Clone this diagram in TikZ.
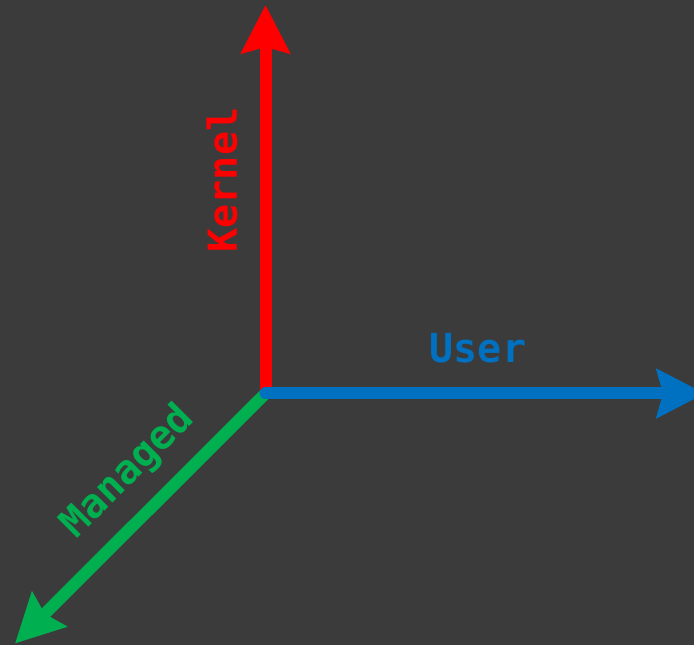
\documentclass[tikz,border=0pt]{standalone}
\usepackage{fontspec}
\newfontfamily\axisfont{DejaVu Sans Mono}
\usetikzlibrary{arrows.meta}
\definecolor{bgdark}{HTML}{3B3B3B}
\definecolor{axisred}{HTML}{FF0000}
\definecolor{axisblue}{HTML}{0070C0}
\definecolor{axisgreen}{HTML}{00B050}
\tikzset{
  axis/.style={line width=9pt, -{Stealth[length=36pt,width=36pt,inset=4.5pt]}},
  axislabel/.style={font=\axisfont\bfseries\fontsize{30}{30}\selectfont, inner sep=0pt}
}
\begin{document}
\begin{tikzpicture}[x=0.75pt,y=-0.75pt]
  \fill[bgdark] (0,0) rectangle (694,645);
  \useasboundingbox (0,0) rectangle (694,645);
  \coordinate (O) at (265.5,393.5);
  \coordinate (kend) at (265.5,5);
  \coordinate (uend) at (705,393.5);
  \coordinate (mend) at (15,643.5);
  \draw[axis, axisgreen] (O) -- (mend);
  \draw[axis, axisred] (O) -- (kend);
  \draw[axis, axisblue, line cap=round] (O) -- (uend);
  \node[axislabel, text=axisred, rotate=90] (klabel) at (222,180) {Kernel};
  \node[axislabel, text=axisblue] (ulabel) at (478,348) {User};
  \node[axislabel, text=axisgreen, rotate=45] (mlabel) at (128,472) {Managed};
\end{tikzpicture}
\end{document}
